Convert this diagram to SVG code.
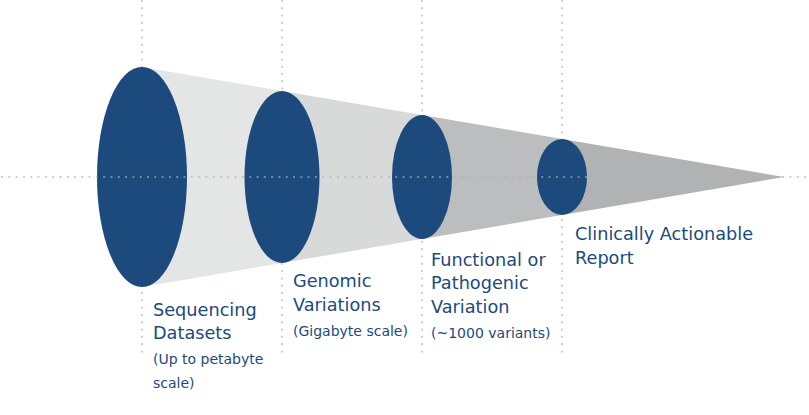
<svg xmlns="http://www.w3.org/2000/svg" width="809" height="415" viewBox="0 0 809 415">
<style>
.guide{stroke:#cfcfcf;stroke-width:2;stroke-dasharray:2 5.3;fill:none}
.hguide{stroke:#b0b0b0;stroke-width:2;stroke-dasharray:2 5.3;fill:none;opacity:0.6}
.stage{fill:#1c4a7d}
.title{font-family:"DejaVu Sans","Verdana",sans-serif;font-size:17.7px;fill:#1c4a7d}
.sub{font-family:"DejaVu Sans","Verdana",sans-serif;font-size:14px;fill:#1c4a7d}
</style>
<rect width="809" height="415" fill="#ffffff"/>
<g id="connectors">
<line class="guide" x1="142" y1="0" x2="142" y2="354"/>
<line class="guide" x1="282" y1="0" x2="282" y2="354"/>
<line class="guide" x1="422" y1="0" x2="422" y2="354"/>
<line class="guide" x1="562" y1="0" x2="562" y2="354"/>
<polygon points="142,67 282,91 282,263 142,287" fill="#e4e5e5"/>
<polygon points="282,91 422,115 422,239 282,263" fill="#d8d9d9"/>
<polygon points="422,115 562,139 562,215 422,239" fill="#bcbdbe"/>
<polygon points="562,139 784,177 562,215" fill="#b1b2b3"/>
</g>
<g id="node-sequencing">
<ellipse class="stage" cx="142" cy="177" rx="45" ry="110"/>
<text class="title" x="153" y="316">Sequencing</text>
<text class="title" x="153" y="339">Datasets</text>
<text class="sub" x="153" y="364">(Up to petabyte</text>
<text class="sub" x="153" y="388">scale)</text>
</g>
<g id="node-genomic">
<ellipse class="stage" cx="282" cy="177" rx="37.5" ry="86"/>
<text class="title" x="293" y="287">Genomic</text>
<text class="title" x="293" y="311">Variations</text>
<text class="sub" x="293" y="336">(Gigabyte scale)</text>
</g>
<g id="node-functional">
<ellipse class="stage" cx="422" cy="177" rx="30" ry="62"/>
<text class="title" x="431" y="265.5">Functional or</text>
<text class="title" x="431" y="289">Pathogenic</text>
<text class="title" x="431" y="313">Variation</text>
<text class="sub" x="431" y="338">(~1000 variants)</text>
</g>
<g id="node-report">
<ellipse class="stage" cx="562" cy="177" rx="25" ry="38"/>
<text class="title" x="575" y="240">Clinically Actionable</text>
<text class="title" x="575" y="264">Report</text>
</g>
<g id="axis">
<line class="hguide" x1="1" y1="177" x2="809" y2="177"/>
</g>
</svg>
